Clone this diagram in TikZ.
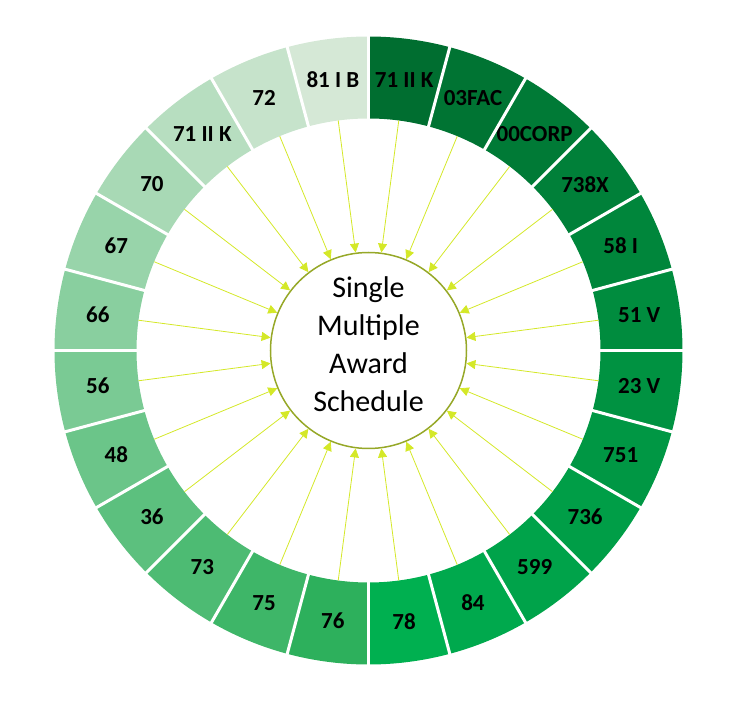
\documentclass[tikz,border=0pt]{standalone}
\usepackage{fontspec}
\setmainfont{Carlito}
\usetikzlibrary{arrows.meta}
\definecolor{greenD}{RGB}{0,110,48}
\definecolor{greenB}{RGB}{0,176,80}
\definecolor{greenM}{RGB}{45,176,92}
\definecolor{greenP}{RGB}{213,232,214}
\definecolor{feedcol}{RGB}{212,232,40}
\definecolor{hubcol}{RGB}{150,168,40}
\begin{document}
\begin{tikzpicture}[x=1pt,y=1pt]
\tikzset{seglabel/.style={font=\fontsize{23}{23}\selectfont\bfseries},
  feed/.style={draw=feedcol, line width=0.8pt, -{Triangle[length=9pt,width=9pt,fill=feedcol]}}}
\useasboundingbox (-368.5,-352.5) rectangle (377.5,350.5);
% right half, dark to bright
\foreach \lab [count=\i from 0] in {71 II K,03FAC,00CORP,738X,58 I,51 V,23 V,751,736,599,84,78} {
  \pgfmathsetmacro{\a}{90-15*\i}
  \pgfmathtruncatemacro{\t}{100*\i/11}
  \fill[greenB!\t!greenD] (\a:232pt) arc[start angle=\a, end angle=\a-15, radius=232pt]
    -- (\a-15:314pt) arc[start angle=\a-15, end angle=\a, radius=314pt] -- cycle;
  \node[seglabel] (R\i) at (\a-7.5:273pt) {\lab};
  \coordinate (RA\i) at (\a-7.5:232pt);
}
% left half, pale to bright
\foreach \lab [count=\i from 0] in {81 I B,72,71 II K,70,67,66,56,48,36,73,75,76} {
  \pgfmathsetmacro{\a}{90+15*\i}
  \pgfmathtruncatemacro{\t}{100*\i/11}
  \fill[greenM!\t!greenP] (\a:232pt) arc[start angle=\a, end angle=\a+15, radius=232pt]
    -- (\a+15:314pt) arc[start angle=\a+15, end angle=\a, radius=314pt] -- cycle;
  \node[seglabel] (L\i) at (\a+7.5:273pt) {\lab};
  \coordinate (LA\i) at (\a+7.5:232pt);
}
\foreach \k in {0,...,23}
  \draw[white, line width=3pt] (15*\k:228pt) -- (15*\k:318pt);
\node[circle, draw=hubcol, line width=1.5pt, minimum size=196pt, align=center,
  font=\fontsize{30}{38}\selectfont] (C) at (0,0)
  {Single\\Multiple\\Award\\Schedule\rule[-12pt]{0pt}{12pt}};
\foreach \i in {0,...,11} {
  \draw[feed] (RA\i) -- (C);
  \draw[feed] (LA\i) -- (C);
}
\end{tikzpicture}
\end{document}
